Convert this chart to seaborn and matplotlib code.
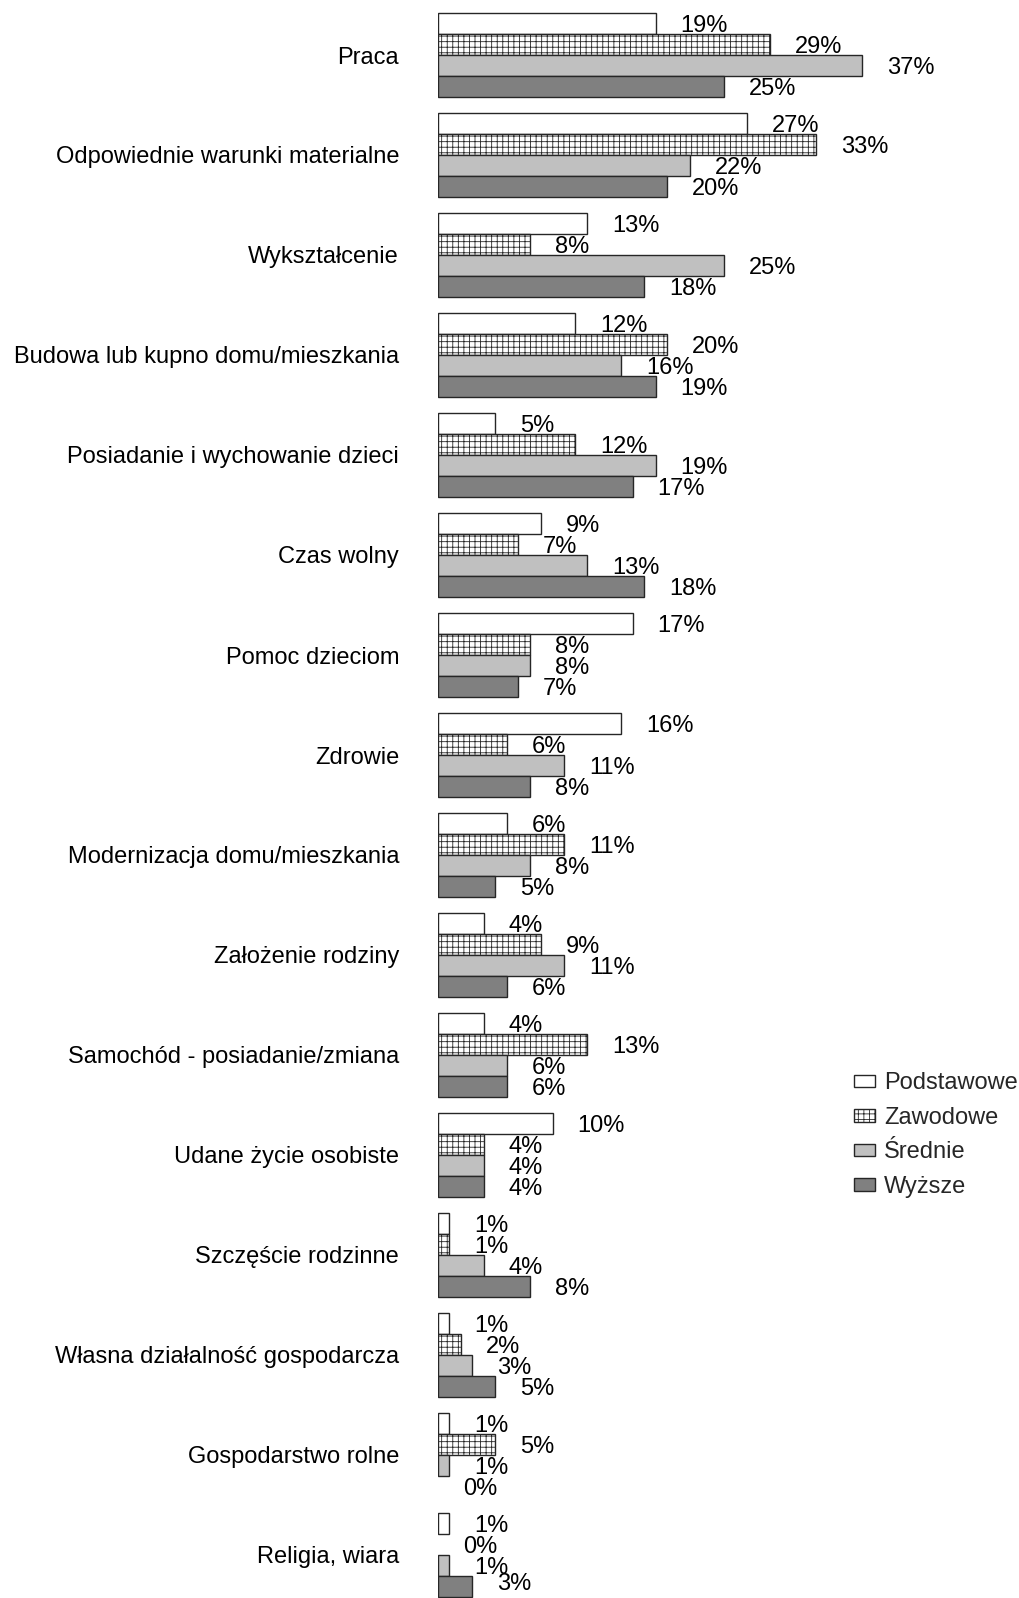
import matplotlib
matplotlib.use("Agg")
import matplotlib.pyplot as plt
import seaborn as sns
import pandas as pd
from matplotlib.patches import Patch

categories = [
    "Praca",
    "Odpowiednie warunki materialne",
    "Wykształcenie",
    "Budowa lub kupno domu/mieszkania",
    "Posiadanie i wychowanie dzieci",
    "Czas wolny",
    "Pomoc dzieciom",
    "Zdrowie",
    "Modernizacja domu/mieszkania",
    "Założenie rodziny",
    "Samochód - posiadanie/zmiana",
    "Udane życie osobiste",
    "Szczęście rodzinne",
    "Własna działalność gospodarcza",
    "Gospodarstwo rolne",
    "Religia, wiara",
]
series_names = ["Podstawowe", "Zawodowe", "Średnie", "Wyższe"]
podstawowe = [19, 27, 13, 12, 5, 9, 17, 16, 6, 4, 4, 10, 1, 1, 1, 1]
zawodowe = [29, 33, 8, 20, 12, 7, 8, 6, 11, 9, 13, 4, 1, 2, 5, 0]
srednie = [37, 22, 25, 16, 19, 13, 8, 11, 8, 11, 6, 4, 4, 3, 1, 1]
wyzsze = [25, 20, 18, 19, 17, 18, 7, 8, 5, 6, 6, 4, 8, 5, 0, 3]

values = [podstawowe, zawodowe, srednie, wyzsze]
rows = []
for s, vals in zip(series_names, values):
    for c, v in zip(categories, vals):
        rows.append({"kat": c, "seria": s, "val": v})
df = pd.DataFrame(rows)

sns.set_style("white")
plt.rcParams["font.family"] = ["Liberation Sans", "DejaVu Sans"]
plt.rcParams["hatch.linewidth"] = 0.6

face = ["#FFFFFF", "#FFFFFF", "#C0C0C0", "#808080"]
hatches = ["", "+++", "", ""]
edge = "#262626"

fig = plt.figure(figsize=(10.19, 15.98), dpi=100)
ax = fig.add_axes([438 / 1019, 0, 458 / 1019, 1])

sns.barplot(data=df, x="val", y="kat", hue="seria", order=categories,
            hue_order=series_names, palette=face, orient="h",
            width=0.84, gap=0, edgecolor=edge, linewidth=1.0,
            legend=False, ax=ax, errorbar=None, saturation=1)

n_cat = len(categories)
for i, cont in enumerate(ax.containers):
    for j, (p, v) in enumerate(zip(cont, values[i])):
        p.set_hatch(hatches[i])
        p.set_edgecolor(edge)
        if v == 0:
            p.set_linewidth(0)
        yc = p.get_y() + p.get_height() / 2
        dy = -1.8
        if j == n_cat - 1 and i == len(values) - 1:
            dy = 1.5  # keep the last label inside the figure edge
        ax.annotate(f"{v}%", xy=(p.get_width(), yc), xytext=(18, dy),
                    textcoords="offset points", ha="left", va="center",
                    fontsize=17, color="black", annotation_clip=False)

ax.set_xlim(0, 40)
ax.set_ylim(15.43, -0.55)
ax.set_xlabel("")
ax.set_ylabel("")
ax.set_xticks([])
ax.tick_params(axis="y", length=0, pad=28, labelsize=17, labelcolor="black")
for sp in ax.spines.values():
    sp.set_visible(False)

handles = [Patch(facecolor=face[i], edgecolor=edge, hatch=hatches[i],
                 linewidth=1.0, label=series_names[i]) for i in range(4)]
fig.legend(handles=handles, loc="upper left",
           bbox_to_anchor=(845 / 1019, 1 - 1063 / 1598), frameon=False,
           fontsize=17, handlelength=0.85, handleheight=0.45,
           handletextpad=0.4, labelspacing=0.53, borderaxespad=0)

fig.savefig("out.png", dpi=100)
